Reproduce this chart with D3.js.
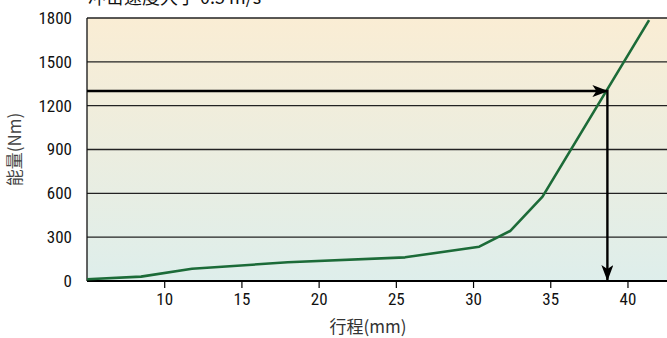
<!DOCTYPE html>
<html><head><meta charset="utf-8">
<script src="https://cdn.jsdelivr.net/npm/d3@7"></script>
<style>
html,body{margin:0;padding:0;background:#fff;}
svg{display:block;}
.num{font-family:"Liberation Sans Narrow","Roboto Condensed","Arial Narrow","Liberation Sans",sans-serif;}
.cjk{font-family:"Noto Sans CJK SC","Noto Sans",sans-serif;}
</style>
</head><body>
<svg id="chart" width="667" height="338"></svg>
<script>
// Data
const strokeMm = [5, 8.5, 11.8, 18, 25.6, 30.4, 32.4, 34.5, 41.4];
const energyNm = [12, 30, 84, 128, 162, 235, 342, 577, 1785];
const xTicks = [10, 15, 20, 25, 30, 35, 40];
const yTicks = [0, 300, 600, 900, 1200, 1500, 1800];
const readStroke = [38.7];
const readEnergy = [1300];
const titleText = "冲击速度大于 0.5 m/s";
const xLabel = "行程(mm)";
const yLabel = "能量(Nm)";

const W = 667, H = 338;
const m = {left: 87, right: 0, top: 18, bottom: 57};
const svg = d3.select("#chart");
const x = d3.scaleLinear().domain([5, 42.56]).range([m.left, W - m.right]);
const y = d3.scaleLinear().domain([0, 1800]).range([H - m.bottom, m.top]);

const defs = svg.append("defs");
const grad = defs.append("linearGradient").attr("id","bg").attr("x1",0).attr("y1",0).attr("x2",0).attr("y2",1);
grad.append("stop").attr("offset","0%").attr("stop-color","#faedd4");
grad.append("stop").attr("offset","100%").attr("stop-color","#deeeeb");

const mk = defs.append("marker").attr("id","arr").attr("viewBox","0 0 16 12")
  .attr("refX",15).attr("refY",6).attr("markerWidth",16).attr("markerHeight",12)
  .attr("markerUnits","userSpaceOnUse").attr("orient","auto");
mk.append("path").attr("d","M0,0 L16,6 L0,12 L4,6 Z").attr("fill","#000");

svg.append("rect").attr("x", x(5)).attr("y", y(1800))
  .attr("width", W - x(5)).attr("height", y(0) - y(1800)).attr("fill","url(#bg)");

// gridlines
svg.append("g").selectAll("line").data(yTicks.filter(d => d > 0)).join("line")
  .attr("x1", x(5)).attr("x2", W).attr("y1", d => y(d)).attr("y2", d => y(d))
  .attr("stroke","#222").attr("stroke-width",1.4);

// left border
svg.append("line").attr("x1", x(5)).attr("x2", x(5)).attr("y1", y(1800)).attr("y2", y(0))
  .attr("stroke","#111").attr("stroke-width",1.3);

// x axis
const xAxis = d3.axisBottom(x).tickValues(xTicks).tickSize(7).tickPadding(5).tickFormat(d3.format("d"));
const gx = svg.append("g").attr("transform",`translate(0,${y(0)})`).call(xAxis);
gx.select(".domain").attr("d", `M${x(5)},0H${W}`).attr("stroke","#000").attr("stroke-width",2);
gx.selectAll(".tick line").attr("stroke","#000").attr("stroke-width",1.2);
gx.selectAll("text").attr("class","num").attr("font-size",17).attr("fill","#111");

// y axis labels
const yAxis = d3.axisLeft(y).tickValues(yTicks).tickSize(0).tickPadding(15).tickFormat(d3.format("d"));
const gy = svg.append("g").attr("transform",`translate(${x(5)},0)`).call(yAxis);
gy.select(".domain").remove();
gy.selectAll("text").attr("class","num").attr("font-size",17).attr("fill","#111");

// curve
const pts = strokeMm.map((v,i) => [v, energyNm[i]]);
svg.append("path").datum(pts)
  .attr("d", d3.line().x(d => x(d[0])).y(d => y(d[1])))
  .attr("fill","none").attr("stroke","#1c6b38").attr("stroke-width",2.6)
  .attr("stroke-linejoin","round");

// reading arrows
const rx = x(readStroke[0]), ry = y(readEnergy[0]);
svg.append("line").attr("x1", x(5)).attr("x2", rx).attr("y1", ry).attr("y2", ry)
  .attr("stroke","#000").attr("stroke-width",2.4).attr("marker-end","url(#arr)");
svg.append("line").attr("x1", rx).attr("x2", rx).attr("y1", ry - 1.2).attr("y2", y(0) - 1)
  .attr("stroke","#000").attr("stroke-width",2.4).attr("marker-end","url(#arr)");

// title (clipped at top, as in the reference)
svg.append("text").attr("class","cjk").attr("x", 88).attr("y", 4)
  .attr("font-size",18).attr("fill","#111").text(titleText);

// axis labels
svg.append("text").attr("class","cjk").attr("x", 368).attr("y", 333)
  .attr("text-anchor","middle").attr("font-size",17).attr("fill","#333").text(xLabel);
svg.append("text").attr("class","cjk")
  .attr("transform",`translate(21,${(y(0)+y(1800))/2}) rotate(-90)`)
  .attr("text-anchor","middle").attr("font-size",17).attr("fill","#444").text(yLabel);
</script>
</body></html>
